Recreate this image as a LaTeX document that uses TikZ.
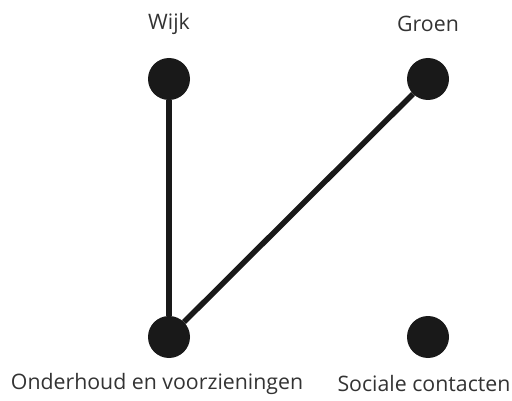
\documentclass[tikz,border=0pt]{standalone}
\usepackage{fontspec}
\setmainfont{Open Sans}
\begin{document}
\begin{tikzpicture}[x=1pt,y=-1pt,
  dot/.style={circle,fill=black!90,minimum size=42pt,inner sep=0pt},
  lbl/.style={font=\fontsize{21.3}{24}\selectfont,text=black!80,inner sep=0pt},
  edge/.style={line width=5.5pt,draw=black!90}]
\useasboundingbox (0,0) rectangle (512,401);
\node[dot] (wijk) at (169,79) {};
\node[dot] (groen) at (428,79) {};
\node[dot] (ond) at (169,337) {};
\node[dot] (soc) at (428,337) {};
\node[lbl] (lw) at (169,24) {Wijk};
\node[lbl] (lg) at (428,24) {Groen};
\node[lbl] (lo) at (157,384) {Onderhoud en voorzieningen};
\node[lbl] (ls) at (424,384) {Sociale contacten};
\draw[edge] (wijk) -- (ond);
\draw[edge] (groen) -- (ond);
\end{tikzpicture}
\end{document}
